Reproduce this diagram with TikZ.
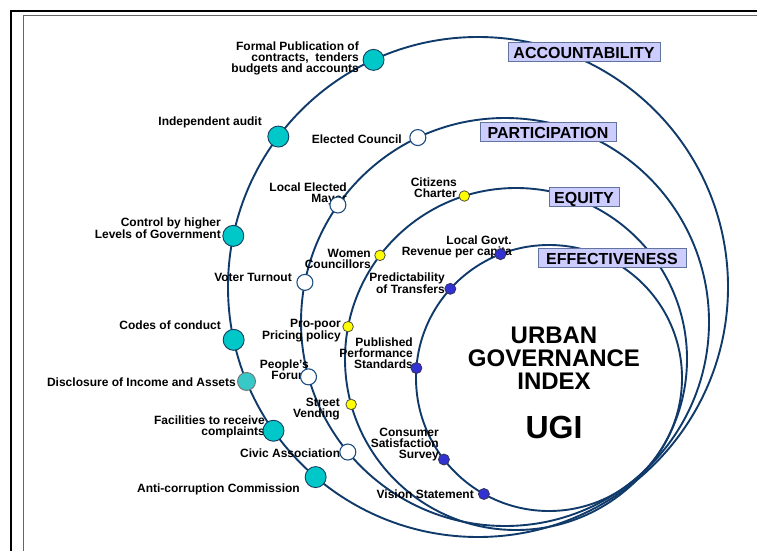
\documentclass[tikz,border=0pt]{standalone}
\usepackage{fontspec}
\setmainfont{Liberation Sans}
\usetikzlibrary{calc}

\definecolor{ringblue}{RGB}{16,58,106}
\definecolor{catfill}{RGB}{204,204,255}
\definecolor{catedge}{RGB}{96,116,158}
\definecolor{accfill}{RGB}{0,200,200}
\definecolor{accfillb}{RGB}{56,200,200}
\definecolor{accedge}{RGB}{22,60,96}
\definecolor{partedge}{RGB}{28,78,130}
\definecolor{eqfill}{RGB}{255,255,0}
\definecolor{eqedge}{RGB}{80,80,60}
\definecolor{efffill}{RGB}{50,50,210}
\definecolor{effedge}{RGB}{50,50,90}

\begin{document}
\begin{tikzpicture}[x=1pt, y=-1pt,
    ring/.style={draw=ringblue, line width=1.9pt},
    catbox/.style={rectangle, draw=catedge, fill=catfill, line width=1pt, font=\fontsize{16}{16}\selectfont\bfseries, inner xsep=3pt, inner ysep=3.5pt, text height=12pt, text depth=0pt},
    lbl/.style={font=\fontsize{12}{11}\selectfont\bfseries, align=right, inner sep=0pt, anchor=east},
    title/.style={font=\fontsize{24}{23}\selectfont\bfseries, align=center, inner sep=0pt},
    accdot/.style={circle, draw=accedge, fill=accfill, line width=0.9pt, minimum size=21pt, inner sep=0pt},
    partdot/.style={circle, draw=partedge, fill=white, line width=1.1pt, minimum size=16pt, inner sep=0pt},
    eqdot/.style={circle, draw=eqedge, fill=eqfill, line width=0.8pt, minimum size=10.5pt, inner sep=0pt},
    effdot/.style={circle, draw=effedge, fill=efffill, line width=0.8pt, minimum size=11pt, inner sep=0pt}]

    \useasboundingbox (0,0) rectangle (757,551);

    % double frame
    \draw[black, line width=1.2pt] (11,551) -- (11,11) -- (757,11);
    \draw[black!60, line width=1pt] (23.5,551) -- (23.5,16) -- (757,16);

    % ring centres
    \coordinate (acc) at (478,287);
    \coordinate (part) at (505,322);
    \coordinate (eq) at (516,359);
    \coordinate (eff) at (549,378);

    % rings
    \draw[ring] (acc) circle[radius=250];
    \draw[ring] (part) circle[radius=204];
    \draw[ring] (eq) circle[radius=171];
    \draw[ring] (eff) circle[radius=133];

    % centre title
    \node[title] (ugi) at (554,358) {URBAN\\GOVERNANCE\\INDEX};
    \node[font=\fontsize{32}{32}\selectfont\bfseries, inner sep=0pt] (ugiabbr) at (554,427) {UGI};

    % ring headings
    \node[catbox, minimum width=152pt] (acctitle) at (584,52.5) {ACCOUNTABILITY};
    \node[catbox, minimum width=136pt] (parttitle) at (548,132) {PARTICIPATION};
    \node[catbox, minimum width=70pt] (eqtitle) at (584,197) {EQUITY};
    \node[catbox, minimum width=148pt] (efftitle) at (612,258) {EFFECTIVENESS};

    % accountability labels
    \node[lbl] (pubtxt) at (359,58) {Formal Publication of\\contracts,\ \ tenders\\budgets and accounts};
    \node[lbl] (audittxt) at (262,122) {Independent audit};
    \node[lbl] (controltxt) at (221,228) {Control by higher\\Levels of Government};
    \node[lbl] (codestxt) at (221,325) {Codes of conduct};
    \node[lbl] (disctxt) at (236,382) {Disclosure of Income and Assets};
    \node[lbl] (facitxt) at (265,427) {Facilities to receive\\complaints};
    \node[lbl] (antitxt) at (300,489) {Anti-corruption Commission};

    % participation labels
    \node[lbl] (counciltxt) at (402,139) {Elected Council};
    \node[lbl] (mayortxt) at (347,194) {Local Elected\\Mayor};
    \node[lbl] (votertxt) at (292,277) {Voter Turnout};
    \node[lbl] (forumtxt) at (309,370) {People’s\\Forum};
    \node[lbl] (civictxt) at (347,453) {Civic Associations};

    % equity labels
    \node[lbl] (chartertxt) at (457,188) {Citizens\\Charter};
    \node[lbl] (womentxt) at (371,259) {Women\\Councillors};
    \node[lbl] (poortxt) at (341,331) {Pro-poor\\Pricing policy};
    \node[lbl] (vendtxt) at (340,409) {Street\\Vending};

    % effectiveness labels
    \node[lbl] (revtxt) at (512,247) {Local Govt.\\Revenue per capita};
    \node[lbl] (transtxt) at (445,283) {Predictability\\of Transfers};
    \node[lbl] (stdtxt) at (413,353) {Published\\Performance\\Standards};
    \node[lbl] (survtxt) at (439,445) {Consumer\\Satisfaction\\Survey};
    \node[lbl] (visiontxt) at (474,494) {Vision Statement};

    % accountability markers
    \node[accdot] (pub) at ($(acc)+(245.3:250)$) {};
    \node[accdot] (audit) at ($(acc)+(217:250)$) {};
    \node[accdot] (control) at ($(acc)+(191.8:250)$) {};
    \node[accdot] (codes) at ($(acc)+(167.8:250)$) {};
    \node[accdot, fill=accfillb, draw=black!55, minimum size=18pt] (disc) at ($(acc)+(157.8:250)$) {};
    \node[accdot] (faci) at ($(acc)+(144.9:250)$) {};
    \node[accdot] (anti) at ($(acc)+(130.5:250)$) {};

    % participation markers
    \node[partdot] (council) at ($(part)+(244.7:204)$) {};
    \node[partdot] (mayor) at ($(part)+(215:204)$) {};
    \node[partdot] (voter) at ($(part)+(191.2:204)$) {};
    \node[partdot] (forum) at ($(part)+(164.4:204)$) {};
    \node[partdot] (civic) at ($(part)+(140.4:204)$) {};

    % equity markers
    \node[eqdot] (charter) at ($(eq)+(252.4:171)$) {};
    \node[eqdot] (women) at ($(eq)+(217.3:171)$) {};
    \node[eqdot] (poor) at ($(eq)+(190.9:171)$) {};
    \node[eqdot] (vend) at ($(eq)+(164.6:171)$) {};

    % effectiveness markers
    \node[effdot] (rev) at ($(eff)+(248.6:133)$) {};
    \node[effdot] (trans) at ($(eff)+(222.1:133)$) {};
    \node[effdot] (std) at ($(eff)+(184.3:133)$) {};
    \node[effdot] (surv) at ($(eff)+(142.2:133)$) {};
    \node[effdot] (vision) at ($(eff)+(119.3:133)$) {};

\end{tikzpicture}
\end{document}
